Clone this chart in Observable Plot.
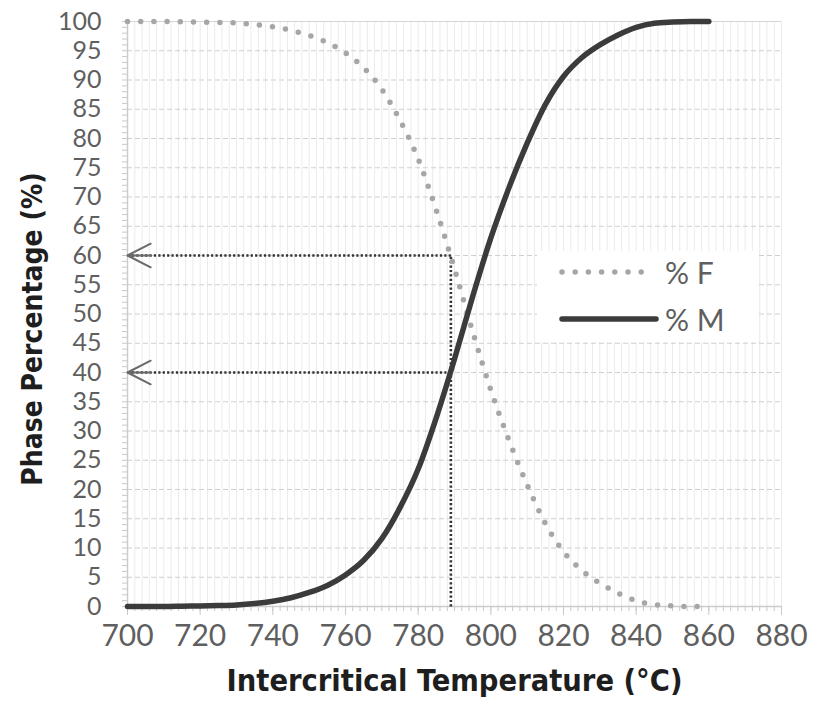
<!DOCTYPE html>
<html>
<head>
<meta charset="utf-8">
<script src="https://cdn.jsdelivr.net/npm/d3@7"></script>
<script src="https://cdn.jsdelivr.net/npm/@observablehq/plot@0.6"></script>
<style>
  html, body { margin: 0; padding: 0; background: #fff; }
  #wrap { position: relative; width: 814px; height: 710px; }
  #legend { position: absolute; left: 537px; top: 251px; width: 220px; height: 91px; background: #fff; }
</style>
</head>
<body>
<div id="wrap"></div>
<script>
// ---- data ----
const temps = [700,705,710,715,720,725,730,735,740,745,750,755,760,765,770,775,780,785,790,795,800,805,810,815,820,825,830,835,840,845,850,855,860];
const martensite = [0,0,0,0.05,0.1,0.15,0.25,0.5,0.9,1.5,2.4,3.6,5.4,7.9,11.6,16.9,23.5,32.3,42.3,53,63,71.6,79.2,85.8,90.6,93.8,96,97.7,99,99.7,99.9,100,100];
const ferrite = [100,100,100,99.95,99.9,99.85,99.75,99.5,99.1,98.5,97.6,96.4,94.6,92.1,88.4,83.1,76.5,67.7,57.7,47,37,28.4,20.8,14.2,9.4,6.2,4,2.3,1,0.3,0.1,0,0];
const xTicks = [700,720,740,760,780,800,820,840,860,880];
const yTicks = [0,5,10,15,20,25,30,35,40,45,50,55,60,65,70,75,80,85,90,95,100];
const xMinor = d3.range(700, 881, 2);
const yMinor = d3.range(0, 101, 1);
const guideTemp = 789;
const guideLevels = [60, 40];
const seriesNames = ["% F", "% M"];
const xTitle = "Intercritical Temperature (°C)";
const yTitle = "Phase Percentage (%)";

const rowsM = temps.map((t, i) => ({t, v: martensite[i]}));
const rowsF = temps.map((t, i) => ({t, v: ferrite[i]}));
const guideH = guideLevels.map(v => ({x1: 700, x2: guideTemp, y: v}));

const titleFont = "'DejaVu Sans Condensed', 'DejaVu Sans', sans-serif";
const tickFont = "Lato, 'Open Sans', sans-serif";

const chart = Plot.plot({
  width: 814,
  height: 710,
  marginLeft: 127,
  marginRight: 33,
  marginTop: 21,
  marginBottom: 104,
  x: {domain: [700, 880]},
  y: {domain: [0, 100]},
  style: {fontFamily: tickFont, background: "#fff"},
  marks: [
    Plot.gridX(xMinor, {stroke: "#ebebeb", strokeOpacity: 1, strokeWidth: 1}),
    Plot.gridY(yTicks, {stroke: "#cfcfcf", strokeOpacity: 1, strokeDasharray: "5,3"}),
    Plot.ruleY([100], {stroke: "#d6d6d6"}),
    Plot.ruleX([700], {stroke: "#cccccc", strokeWidth: 1.5}),
    Plot.ruleY([0], {stroke: "#cccccc", strokeWidth: 1.5}),
    Plot.axisY(yMinor, {tickSize: 5, text: null, stroke: "#c8c8c8", label: null}),
    Plot.axisY(yTicks, {tickSize: 0, tickPadding: 26, fontSize: 25, fill: "#5f5f5f", label: null}),
    Plot.axisX(xMinor, {tickSize: 5, text: null, stroke: "#c8c8c8", label: null}),
    Plot.axisX(xTicks, {tickSize: 9, tickPadding: 9, stroke: "#c8c8c8", fontSize: 30, fill: "#5f5f5f", label: null, letterSpacing: "1.5px"}),
    // guide lines
    Plot.link(guideH, {x1: "x1", x2: "x2", y1: "y", y2: "y", stroke: "#333", strokeWidth: 2.6, strokeDasharray: "2.2,2.2"}),
    Plot.link([{x: guideTemp, y1: 0, y2: 60}], {x: "x", y1: "y1", y2: "y2", stroke: "#333", strokeWidth: 2.6, strokeDasharray: "2.2,2.2"}),
    Plot.arrow(guideH, {x1: "x2", x2: "x1", y1: "y", y2: "y", stroke: "#6a6a6a", strokeWidth: 2, headLength: 19.5, headAngle: 54, insetStart: 300}),
    // series
    Plot.line(rowsF, {x: "t", y: "v", stroke: "#a6a6a6", strokeWidth: 5.5, strokeDasharray: "0,13.2", strokeLinecap: "round", curve: "monotone-x"}),
    Plot.line(rowsM, {x: "t", y: "v", stroke: "#3b3b3b", strokeWidth: 5.5, curve: "monotone-x"}),
    // axis titles
    Plot.text([xTitle], {frameAnchor: "bottom", dy: 84, fontSize: 30.5, fontWeight: "bold", fill: "#1e1e1e", fontFamily: titleFont}),
    Plot.text([yTitle], {frameAnchor: "left", textAnchor: "middle", dx: -94, dy: 15, rotate: -90, fontSize: 28, fontWeight: "bold", fill: "#1e1e1e", fontFamily: titleFont})
  ]
});

const wrap = document.getElementById("wrap");
wrap.appendChild(chart);

// legend box over the plot
const legend = d3.select(wrap).append("div").attr("id", "legend");
const lsvg = legend.append("svg").attr("width", 220).attr("height", 91);
const legendRows = [
  {name: seriesNames[0], stroke: "#a6a6a6", dash: "0,13.2", x2: 111, y: 21},
  {name: seriesNames[1], stroke: "#3b3b3b", dash: null, x2: 119, y: 68}
];
legendRows.forEach(r => {
  lsvg.append("line").attr("x1", 25).attr("x2", r.x2).attr("y1", r.y).attr("y2", r.y)
    .attr("stroke", r.stroke).attr("stroke-width", 5.5).attr("stroke-linecap", "round")
    .attr("stroke-dasharray", r.dash);
  lsvg.append("text").attr("x", 128).attr("y", r.y).attr("dominant-baseline", "central")
    .attr("font-family", tickFont).attr("font-size", 30).attr("fill", "#5f5f5f").text(r.name);
});
</script>
</body>
</html>
